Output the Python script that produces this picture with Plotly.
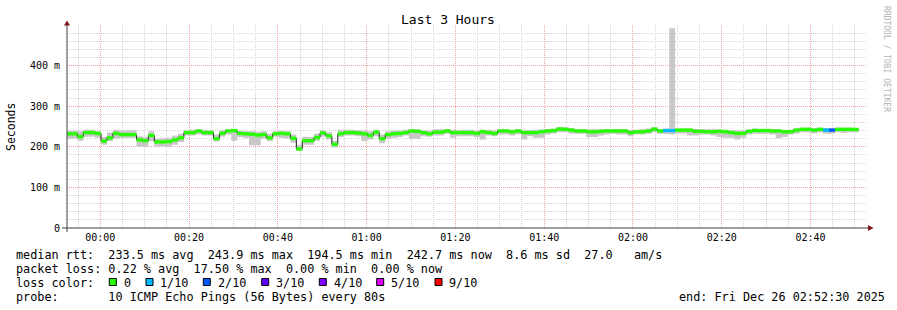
import plotly.graph_objects as go
import pandas as pd

# ---------------- data ----------------
step_start = pd.Timestamp("2025-12-25 23:52:10")
step_seconds = 80
view_start = "2025-12-25 23:52:30"
view_end = "2025-12-26 02:52:30"

median_ms = [
    232, 232, 225, 235, 235, 233, 214, 222, 233, 230,
    230, 230, 217, 215, 228, 212, 212, 213, 217, 222,
    235, 235, 239, 235, 235, 220, 233, 239, 240, 233,
    232, 231, 229, 230, 222, 232, 233, 232, 221, 194.5,
    215, 215, 223, 234, 227, 206, 232, 235, 235, 234,
    232, 228, 236, 220, 230, 232, 233, 235, 239, 238,
    235, 232, 236, 236, 239, 235, 235, 235, 235, 233,
    237, 235, 233, 239, 239, 237, 239, 235, 235, 235,
    237, 239, 240, 243.9, 243, 241, 239, 239, 237, 237,
    238, 239, 239, 239, 239, 235, 237, 237, 239, 243.5,
    239, 240, 240, 241, 241, 241, 238, 238, 237, 237,
    238, 237, 235, 233, 233, 238, 240, 240, 240, 239,
    239, 237, 237, 241, 243, 243, 241, 243, 241, 241,
    243, 243, 243, 242.7,
]
smoke_lo_ms = [
    220, 220, 215, 225, 225, 222, 205, 214, 220, 222,
    222, 222, 200, 200, 214, 201, 201, 200, 205, 212,
    228, 228, 230, 228, 228, 213, 225, 230, 215, 224,
    222, 204, 204, 220, 214, 225, 222, 221, 210, 190,
    205, 205, 215, 225, 218, 198, 224, 228, 228, 226,
    214, 218, 226, 209, 220, 222, 224, 228, 220, 220,
    226, 225, 228, 228, 232, 222, 226, 226, 226, 224,
    218, 228, 226, 230, 230, 228, 231, 218, 226, 222,
    222, 230, 233, 236, 236, 232, 232, 232, 224, 224,
    228, 230, 232, 230, 230, 226, 230, 230, 232, 236,
    232, 232, 230, 233, 233, 228, 228, 230, 230, 228,
    224, 222, 222, 218, 222, 230, 232, 232, 232, 230,
    221, 224, 230, 232, 236, 235, 233, 235, 232, 232,
    236, 234, 236, 236,
]
smoke_hi_ms = [
    240, 240, 238, 242, 242, 238, 224, 235, 242, 240,
    240, 241, 226, 225, 238, 220, 221, 222, 228, 232,
    240, 242, 244, 242, 241, 230, 241, 243, 244, 239,
    238, 238, 237, 238, 232, 238, 239, 238, 230, 205,
    225, 224, 232, 241, 236, 215, 242, 242, 242, 241,
    240, 238, 242, 230, 238, 240, 240, 242, 243, 243,
    241, 240, 243, 243, 244, 242, 241, 242, 242, 240,
    242, 242, 240, 243, 243, 242, 244, 241, 241, 242,
    243, 244, 245, 248, 248, 246, 244, 244, 243, 243,
    243, 244, 244, 244, 243, 242, 242, 243, 245, 248,
    244, 245, 492, 245, 245, 245, 244, 243, 243, 243,
    243, 242, 241, 241, 240, 243, 245, 244, 244, 244,
    243, 242, 242, 245, 247, 247, 246, 247, 246, 246,
    247, 247, 247, 246,
]
loss_of_10 = [
    0, 0, 0, 0, 0, 0, 0, 0, 0, 0,
    0, 0, 0, 0, 0, 0, 0, 0, 0, 0,
    0, 0, 0, 0, 0, 0, 0, 0, 0, 0,
    0, 0, 0, 0, 0, 0, 0, 0, 0, 0,
    0, 0, 0, 0, 0, 0, 0, 0, 0, 0,
    0, 0, 0, 0, 0, 0, 0, 0, 0, 0,
    0, 0, 0, 0, 0, 0, 0, 0, 0, 0,
    0, 0, 0, 0, 0, 0, 0, 0, 0, 0,
    0, 0, 0, 0, 0, 0, 0, 0, 0, 0,
    0, 0, 0, 0, 0, 0, 0, 0, 0, 0,
    0, 1, 1, 0, 0, 0, 0, 0, 0, 0,
    0, 0, 0, 0, 0, 0, 0, 0, 0, 0,
    0, 0, 0, 0, 0, 0, 0, 0, 1, 2,
    0, 0, 0, 0,
]
legend_levels = [0, 1, 2, 3, 4, 5, 9]
legend_labels = ["0", "1/10", "2/10", "3/10", "4/10", "5/10", "9/10"]
loss_colors = {0: "#26ff00", 1: "#00b8ff", 2: "#0059ff", 3: "#5e00ff",
               4: "#7e00ff", 5: "#dd00ff", 9: "#ff0000"}
ytick_vals = [0, 100, 200, 300, 400]
ytick_text = ["0", "100 m", "200 m", "300 m", "400 m"]

line_rtt = "median rtt:  233.5 ms avg  243.9 ms max  194.5 ms min  242.7 ms now  8.6 ms sd  27.0   am/s"
line_loss = "packet loss: 0.22 % avg  17.50 % max  0.00 % min  0.00 % now"
line_color = "loss color:"
line_probe = "probe:       10 ICMP Echo Pings (56 Bytes) every 80s"
line_end = "end: Fri Dec 26 02:52:30 2025"

# ---------------- geometry helpers ----------------
W, H = 897, 310
PL, PR, PT, PB = 67, 866, 25, 228
MONO = "DejaVu Sans Mono"


def px(x):
    return (x - PL) / (PR - PL)


def py(y):
    return (PB - y) / (PB - PT)


def nb(s):
    return s.replace(" ", "\u00a0")


n = len(median_ms)
edges = [step_start + pd.Timedelta(seconds=step_seconds * i) for i in range(n + 1)]

fig = go.Figure()
# smoke band
fig.add_trace(go.Scatter(x=edges, y=smoke_lo_ms + [smoke_lo_ms[-1]], mode="lines",
                         line=dict(width=0, shape="hv"), hoverinfo="skip", showlegend=False))
fig.add_trace(go.Scatter(x=edges, y=smoke_hi_ms + [smoke_hi_ms[-1]], mode="lines",
                         line=dict(width=0, shape="hv"), fill="tonexty", fillcolor="#c8c8c8",
                         hoverinfo="skip", showlegend=False))
# median step line
fig.add_trace(go.Scatter(x=edges, y=median_ms + [median_ms[-1]], mode="lines",
                         line=dict(width=1, shape="hv", color="#202020"),
                         hoverinfo="skip", showlegend=False))
# loss-coloured median segments
for lvl in sorted(set(loss_of_10)):
    xs, ys = [], []
    for i in range(n):
        if loss_of_10[i] == lvl:
            xs += [edges[i], edges[i + 1], None]
            ys += [median_ms[i], median_ms[i], None]
    fig.add_trace(go.Scatter(x=xs, y=ys, mode="lines",
                             line=dict(width=3.4, color=loss_colors[lvl]),
                             hoverinfo="skip", showlegend=False))

shapes = []
axis_col = "#404040"
arrow_col = "#801818"
shapes.append(dict(type="line", xref="paper", yref="paper", x0=px(67), x1=px(67),
                   y0=py(232), y1=py(24), line=dict(color=axis_col, width=1)))
shapes.append(dict(type="line", xref="paper", yref="paper", x0=px(62), x1=px(869),
                   y0=py(228), y1=py(228), line=dict(color=axis_col, width=1)))
shapes.append(dict(type="path", xref="paper", yref="paper",
                   path=f"M {px(64)},{py(25.5)} L {px(70)},{py(25.5)} L {px(67)},{py(20.5)} Z",
                   fillcolor=arrow_col, line=dict(width=0)))
shapes.append(dict(type="path", xref="paper", yref="paper",
                   path=f"M {px(868)},{py(225)} L {px(868)},{py(231)} L {px(873.5)},{py(228)} Z",
                   fillcolor=arrow_col, line=dict(width=0)))

annotations = []


def add_text(text, x, y, size, xanchor="left", color="#000000", angle=0):
    annotations.append(dict(text=nb(text), x=px(x), y=py(y), xref="paper", yref="paper",
                            xanchor=xanchor, yanchor="middle", showarrow=False,
                            textangle=angle, borderpad=0, borderwidth=0,
                            font=dict(family=MONO, size=size, color=color)))


add_text("Last 3 Hours", 448, 19, 13, xanchor="center")
add_text("Seconds", 11, 127, 11.5, xanchor="center", angle=-90)
add_text("RRDTOOL / TOBI OETIKER", 887, 59, 8, xanchor="center", color="#b4b4b4", angle=90)

LEG_FS = 11.8
add_text(line_rtt, 16, 254.7, LEG_FS)
add_text(line_loss, 16, 268.5, LEG_FS)
add_text(line_color, 16, 282.5, LEG_FS)
add_text(line_probe, 16, 296.5, LEG_FS)
add_text(line_end, 678.5, 296.5, LEG_FS)

square_x = [109.3, 146, 203.3, 261.7, 319.3, 376.7, 435]
for sx, lvl, lab in zip(square_x, legend_levels, legend_labels):
    shapes.append(dict(type="rect", xref="paper", yref="paper",
                       x0=px(sx), x1=px(sx + 7), y0=py(285.5), y1=py(278.5),
                       fillcolor=loss_colors[lvl], line=dict(color="#000000", width=1)))
    add_text(lab, sx + 14.3, 282.5, LEG_FS)

major_grid = "#f2a0a0"
minor_grid = "#d4d4d4"
fig.update_layout(
    width=W, height=H,
    margin=dict(l=PL, r=W - PR, t=PT, b=H - PB, pad=0),
    paper_bgcolor="#ffffff", plot_bgcolor="#ffffff",
    showlegend=False,
    shapes=shapes, annotations=annotations,
    xaxis=dict(type="date", range=[view_start, view_end],
               tick0="2025-12-26 00:00:00", dtick=20 * 60 * 1000, tickformat="%H:%M",
               showgrid=True, gridcolor=major_grid, griddash="1px,1px", gridwidth=1,
               minor=dict(dtick=5 * 60 * 1000, tick0="2025-12-26 00:00:00",
                          showgrid=True, gridcolor=minor_grid, griddash="1px,1px", gridwidth=1),
               zeroline=False, showline=False, ticks="", ticklabelstandoff=2,
               tickfont=dict(family=MONO, size=10, color="#000000"), fixedrange=True),
    yaxis=dict(range=[0, 500], tickvals=ytick_vals, ticktext=ytick_text,
               showgrid=True, gridcolor=major_grid, griddash="1px,1px", gridwidth=1,
               minor=dict(dtick=20, showgrid=True, gridcolor=minor_grid,
                          griddash="1px,1px", gridwidth=1),
               zeroline=False, showline=False, ticks="", ticklabelstandoff=6,
               tickfont=dict(family=MONO, size=10, color="#000000"), fixedrange=True),
)

fig.write_html("out.html")
